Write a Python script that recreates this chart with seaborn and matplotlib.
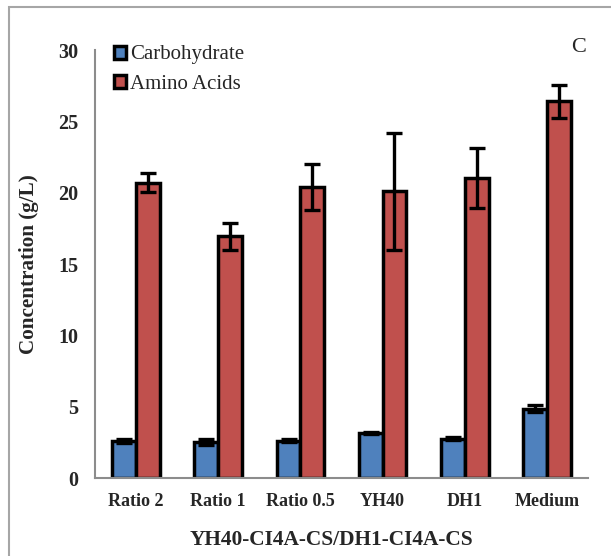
import matplotlib
matplotlib.use("Agg")
import matplotlib.pyplot as plt
import seaborn as sns
import pandas as pd
import numpy as np
from matplotlib.patches import Rectangle

categories = ["Ratio 2", "Ratio 1", "Ratio 0.5", "YH40", "DH1", "Medium"]
series = ["Carbohydrate", "Amino Acids"]
carb_vals = [2.6, 2.5, 2.6, 3.15, 2.75, 4.85]
carb_err = [0.15, 0.22, 0.1, 0.1, 0.1, 0.25]
amino_vals = [20.7, 16.95, 20.4, 20.1, 21.0, 26.4]
amino_err = [0.65, 0.95, 1.6, 4.1, 2.1, 1.15]
colors = ["#4F81BD", "#C0504D"]

df = pd.DataFrame({
    "cat": categories * 2,
    "series": [series[0]] * 6 + [series[1]] * 6,
    "val": carb_vals + amino_vals,
})

sns.set_theme(style="white")
plt.rcParams['font.family'] = ['Liberation Serif', 'DejaVu Serif']

fig = plt.figure(figsize=(6.11, 5.56), dpi=100)
ax = fig.add_axes([95/611, 1-478/556, (588-95)/611, (478-50)/556])

sns.barplot(data=df, x="cat", y="val", hue="series", order=categories,
            hue_order=series, palette=colors, width=0.58, errorbar=None,
            edgecolor="black", linewidth=2.5, saturation=1, ax=ax, legend=True)

errs = [carb_err, amino_err]
for cont, err in zip(ax.containers, errs):
    xs = [p.get_x() + p.get_width()/2 for p in cont.patches]
    ys = [p.get_height() for p in cont.patches]
    ax.errorbar(xs, ys, yerr=err, fmt="none", ecolor="black", elinewidth=2.4,
                capsize=5.5, capthick=2.4, zorder=5)

ax.set_ylim(0, 30)
ax.set_xlim(-0.5, 5.5)
ax.set_yticks([0, 5, 10, 15, 20, 25, 30])
ax.set_yticklabels(["0", "5", "10", "15", "20", "25", "30"], fontsize=14.5, fontweight="bold")
ax.set_xticks(range(len(categories)))
ax.set_xticklabels(categories, fontsize=13, fontweight="bold")
ax.tick_params(axis="y", direction="in", length=5, width=1.2, color="#8c8c8c", pad=12)
ax.tick_params(axis="x", length=0, pad=11)
for s in ["top", "right"]:
    ax.spines[s].set_visible(False)
for s in ["left", "bottom"]:
    ax.spines[s].set_color("#8c8c8c")
    ax.spines[s].set_linewidth(1.5)

ax.set_ylabel("Concentration (g/L)", fontsize=15.2, fontweight="bold", labelpad=14)
ax.set_xlabel("YH40-CI4A-CS/DH1-CI4A-CS", fontsize=15.4, fontweight="bold", labelpad=14)
ax.xaxis.label.set_x(0.479)

leg = ax.legend(loc="upper left", bbox_to_anchor=(0.021, 1.03), frameon=False,
                fontsize=15, handlelength=0.6, handleheight=0.6,
                handletextpad=0.2, labelspacing=0.5, borderaxespad=0)
for h in leg.legend_handles:
    h.set_edgecolor("black")
    h.set_linewidth(2.5)

fig.text(579/611, 1-47/556, "C", fontsize=16, ha="center", va="center")

fig.patches.append(Rectangle((9/611, -0.1), 1.2, 1 - 7/556 + 0.1,
                             transform=fig.transFigure, fill=False,
                             edgecolor="#a6a6a6", linewidth=1.5))

fig.savefig("out.png", dpi=100)
